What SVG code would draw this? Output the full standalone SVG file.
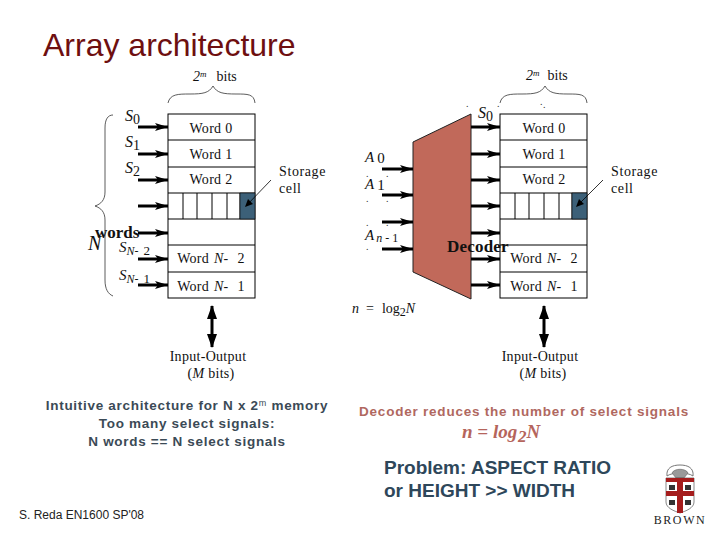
<svg xmlns="http://www.w3.org/2000/svg" width="720" height="540" viewBox="0 0 720 540">
<style>
.s{font-family:"Liberation Serif","Times New Roman",serif;fill:#111}
.a{font-family:"Liberation Sans",Arial,sans-serif}
.w{font-size:14px;text-anchor:middle;letter-spacing:.3px}
.t{font-size:14px;letter-spacing:.6px}
.i{font-style:italic}
.n{font-style:normal}
.box{fill:#fff;stroke:#000;stroke-width:1}
.ln{fill:none;stroke:#000;stroke-width:1}
.br{fill:none;stroke:#333;stroke-width:.8}
.ar{stroke:#000;stroke-width:3;fill:none;marker-end:url(#h)}
.d{font-size:10px;fill:#333;font-family:"Liberation Serif",serif}
.c{font-size:13.5px;font-weight:bold;fill:#3b4a56;letter-spacing:.7px;text-anchor:middle}
.p{font-size:19px;font-weight:bold;fill:#2e475a}
</style>
<defs>
<marker id="h" markerUnits="userSpaceOnUse" markerWidth="14" markerHeight="10" refX="13" refY="5" orient="auto"><path d="M0 1 L13 5 L0 9 L3 5Z" fill="#000"/></marker>
<g id="mem">
<rect class="box" x="0" y="0" width="87" height="184"/>
<path class="ln" d="M0 26H87M0 53H87M0 79H87M0 105H87M0 131H87M0 158H87M15 79V105M29 79V105M44 79V105M59 79V105M72 79V105"/>
<rect x="72" y="79" width="15" height="26" fill="#3c6078" stroke="#000" stroke-width=".6"/>
</g>
</defs>
<rect width="720" height="540" fill="#fff"/>
<text x="43" y="56" class="a" font-size="32" fill="#6e0f10">Array architecture</text>

<g id="memory-left">
<use href="#mem" x="168" y="114"/>
<text class="s w" x="211" y="133">Word 0</text>
<text class="s w" x="211" y="159">Word 1</text>
<text class="s w" x="211" y="184">Word 2</text>
<text class="s w" x="211" y="263">Word <tspan class="i" dx="1">N</tspan>-<tspan dx="9">2</tspan></text>
<text class="s w" x="211" y="291">Word <tspan class="i" dx="1">N</tspan>-<tspan dx="9">1</tspan></text>
</g>
<g id="memory-right">
<use href="#mem" x="500" y="114"/>
<text class="s w" x="544" y="133">Word 0</text>
<text class="s w" x="544" y="159">Word 1</text>
<text class="s w" x="544" y="184">Word 2</text>
<text class="s w" x="544" y="263">Word <tspan class="i" dx="1">N</tspan>-<tspan dx="9">2</tspan></text>
<text class="s w" x="544" y="291">Word <tspan class="i" dx="1">N</tspan>-<tspan dx="9">1</tspan></text>
</g>
<g id="decoder-block"><polygon points="413,142 471,114 471,299 413,272" fill="#c1695a" stroke="#222" stroke-width="1"/></g>

<g id="connectors">
<path class="ar" d="M138 127H168"/><path class="ar" d="M138 154H168"/><path class="ar" d="M138 180H168"/><path class="ar" d="M138 206H168"/><path class="ar" d="M138 233H168"/><path class="ar" d="M138 259H168"/><path class="ar" d="M138 285H168"/>
<path class="ar" d="M471 127H500"/><path class="ar" d="M471 154H500"/><path class="ar" d="M471 180H500"/><path class="ar" d="M471 206H500"/><path class="ar" d="M471 233H500"/><path class="ar" d="M471 259H500"/><path class="ar" d="M471 285H500"/>
<path class="ar" d="M382 169H413"/><path class="ar" d="M382 195H413"/><path class="ar" d="M382 222H413"/><path class="ar" d="M382 249H413"/>
<path d="M271 180L246 206M603 180L577 206" stroke="#000" stroke-width=".8" fill="none"/>
<path d="M245 207L253 204L248 199Z M576 207L584 204L579 199Z" fill="#000"/>
<path d="M212 306V347" stroke="#000" stroke-width="3"/><path d="M544 306V347" stroke="#000" stroke-width="3"/>
<path d="M212 305L207 319H217ZM212 348L207 334H217Z M544 305L539 319H549ZM544 348L539 334H549Z" fill="#000"/>
</g>

<g id="braces">
<path class="br" d="M168 103C170 94 178 94 190 94C203 94 209 93 213 86C217 93 223 94 236 94C248 94 254 94 255 103"/>
<path class="br" d="M500 103C502 94 510 94 522 94C535 94 541 93 545 86C549 93 555 94 568 94C580 94 586 94 587 103"/>
<path class="br" d="M113 115C108 115 105 119 105 128V192C105 200 101 204 95 206C101 208 105 212 105 220V280C105 289 108 294 113 296"/>
</g>

<g id="labels-left">
<text class="s" x="193" y="81" font-size="14"><tspan class="i">2</tspan><tspan class="i" font-size="9" dy="-4">m</tspan><tspan dy="4" dx="10">bits</tspan></text>
<text class="s i" x="125" y="121" font-size="16">S<tspan class="n" font-size="14" dy="3">0</tspan></text>
<text class="s i" x="125" y="147" font-size="16">S<tspan class="n" font-size="14" dy="3">1</tspan></text>
<text class="s i" x="125" y="173" font-size="16">S<tspan class="n" font-size="14" dy="3">2</tspan></text>
<text class="s i" x="119" y="252" font-size="15">S<tspan font-size="12" dy="3">N</tspan><tspan class="n" font-size="12">-</tspan><tspan class="n" font-size="13" dx="5">2</tspan></text>
<text class="s i" x="119" y="280" font-size="15">S<tspan font-size="12" dy="3">N</tspan><tspan class="n" font-size="12">-</tspan><tspan class="n" font-size="13" dx="5">1</tspan></text>
<text class="s" x="95" y="238" font-size="17" font-weight="bold">words</text>
<text class="s i" x="88" y="250" font-size="20">N</text>
<text class="s t" x="279" y="176">Storage</text>
<text class="s t" x="279" y="193">cell</text>
<text class="s w" x="208" y="361">Input-Output</text>
<text class="s w" x="211" y="378">(<tspan class="i">M</tspan> bits)</text>
</g>
<g id="labels-right">
<text class="s" x="526" y="80" font-size="14"><tspan class="i">2</tspan><tspan class="i" font-size="9" dy="-4">m</tspan><tspan dy="4" dx="8">bits</tspan></text>
<text class="s i" x="478" y="118" font-size="16">S<tspan class="n" font-size="14" dy="3">0</tspan></text>
<text class="s i" x="365" y="162" font-size="15">A<tspan class="n" dx="3" dy="1">0</tspan></text>
<text class="s i" x="365" y="189" font-size="15">A<tspan class="n" dx="3" dy="1">1</tspan></text>
<text class="s i" x="365" y="240" font-size="15">A<tspan font-size="12" dx="2" dy="2">n</tspan><tspan class="n" font-size="12" dx="3">-</tspan><tspan class="n" font-size="12" dx="3">1</tspan></text>
<text class="d" x="466" y="107">.</text><text class="d" x="497" y="107">.</text><text class="d" x="540" y="105">.</text><text class="d" x="543" y="108">.</text>
<text class="d" x="366" y="177">.</text><text class="d" x="386" y="177">.</text><text class="d" x="366" y="202">.</text><text class="d" x="386" y="202">.</text><text class="d" x="366" y="226">.</text><text class="d" x="386" y="226">.</text><text class="d" x="366" y="250">.</text>
<text class="s" x="447" y="252" font-size="17" font-weight="bold" letter-spacing=".2">Decoder</text>
<text class="s t" x="611" y="176">Storage</text>
<text class="s t" x="611" y="193">cell</text>
<text class="s" x="352" y="313" font-size="14"><tspan class="i">n</tspan><tspan dx="7">=</tspan><tspan dx="8">log</tspan><tspan font-size="12" dy="3">2</tspan><tspan class="i" dy="-3">N</tspan></text>
<text class="s w" x="540" y="361">Input-Output</text>
<text class="s w" x="543" y="378">(<tspan class="i">M</tspan> bits)</text>
</g>
<g id="captions">
<text class="a c" x="187" y="410">Intuitive architecture for N x 2<tspan font-size="9" font-weight="normal" dy="-4">m</tspan><tspan dy="4"> memory</tspan></text>
<text class="a c" x="187" y="428">Too many select signals:</text>
<text class="a c" x="187" y="446">N words == N select signals</text>
<text class="a c" x="524" y="416" style="fill:#b0685f;letter-spacing:.78px">Decoder reduces the number of select signals</text>
<text font-family="Liberation Serif,serif" x="462" y="438" font-size="19" font-weight="bold" font-style="italic" fill="#b5655c">n = log <tspan dx="-4" dy="4" font-size="17">2</tspan><tspan dy="-4">N</tspan></text>
<text class="a p" x="384" y="474">Problem: ASPECT RATIO</text>
<text class="a p" x="384" y="497">or HEIGHT &gt;&gt; WIDTH</text>
<text class="a" x="19" y="519" font-size="12" fill="#222">S. Reda EN1600 SP'08</text>
</g>
<g id="logo">
<path d="M667 476C666 468 672 465 680 465C688 465 694 468 693 476C688 472 672 472 667 476Z" fill="#fff" stroke="#777" stroke-width="1"/>
<path d="M672 473C674 468 686 468 688 473L684 478H676Z" fill="#999" stroke="#555" stroke-width=".5"/>
<path d="M666 478H694V502C694 508 686 511 680 513C674 511 666 508 666 502Z" fill="#fff" stroke="#555" stroke-width=".7"/>
<path d="M666 478H694V482H666ZM677 482H683V513H677ZM666 491H694V496H666Z" fill="#a51c1c"/>
<rect x="669" y="485" width="6" height="5" fill="#333"/><rect x="685" y="485" width="6" height="5" fill="#333"/><rect x="669" y="500" width="6" height="5" fill="#333"/><rect x="685" y="500" width="6" height="5" fill="#333"/>
<text x="680" y="524" font-family="Liberation Serif,serif" font-size="12" text-anchor="middle" fill="#222" letter-spacing="1.6">BROWN</text>
</g>
</svg>
